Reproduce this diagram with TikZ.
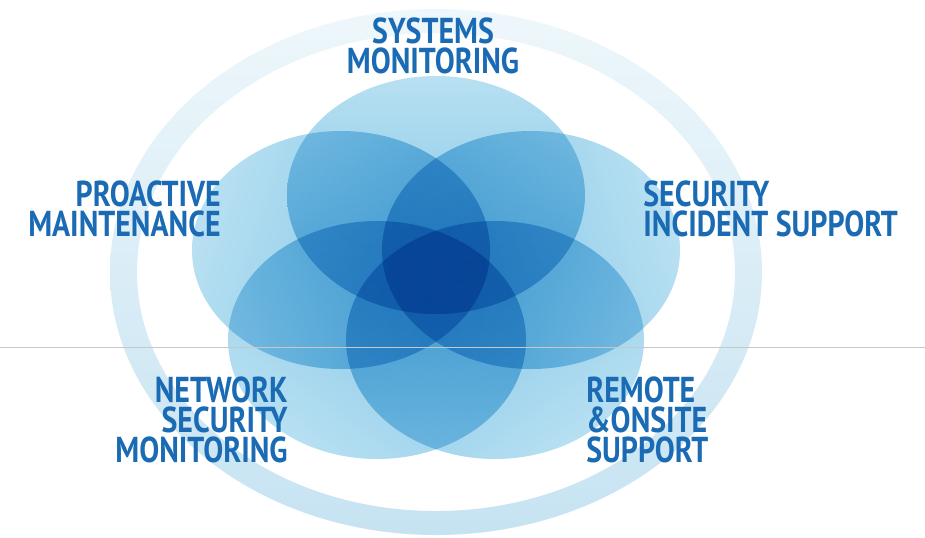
\documentclass[tikz,border=0pt]{standalone}
\usepackage{fontspec}
\newfontfamily\labelfont[FakeStretch=0.83]{PT Sans}
\definecolor{labelblue}{HTML}{1A6BB4}
\definecolor{petallight}{HTML}{B8E0F2}
\definecolor{petaldark}{HTML}{76C0E4}
\definecolor{ringtop}{HTML}{EEF7FB}
\definecolor{ringbottom}{HTML}{C6E3F2}

\begin{document}
\begin{tikzpicture}[x=0.5pt,y=-0.5pt,
  petal/.style={blend mode=multiply,top color=petallight,bottom color=petaldark,shading angle=#1},
  lbl/.style={text=labelblue,inner sep=0pt,font={\labelfont\bfseries\fontsize{18pt}{15pt}\selectfont}}]
\useasboundingbox[fill=white] (0,0) rectangle (925,537);
\shade[top color=ringtop,bottom color=ringbottom,even odd rule] (436,272) ellipse (326 and 263) (436,272) ellipse (299 and 239);
\shade[petal=0] (436,195) ellipse (149 and 119);
\shade[petal=72] (341,250) ellipse (149 and 119);
\shade[petal=144] (377,340) ellipse (149 and 119);
\shade[petal=216] (495,340) ellipse (149 and 119);
\shade[petal=-72] (531,250) ellipse (149 and 119);
\node[lbl,align=center,anchor=north] (sysmon) at (433,17) {SYSTEMS\\MONITORING};
\node[lbl,align=right,anchor=north east] (promain) at (221,180) {PROACTIVE\\MAINTENANCE};
\node[lbl,align=left,anchor=north west] (secinc) at (643,180) {SECURITY\\INCIDENT SUPPORT};
\node[lbl,align=right,anchor=north east] (netmon) at (288,376) {NETWORK\\SECURITY\\MONITORING};
\node[lbl,align=left,anchor=north west] (remote) at (586,376) {REMOTE\\\&ONSITE\\SUPPORT};
\draw[line width=0.5pt,color=black!22] (0,347) -- (925,347);
\end{tikzpicture}
\end{document}
